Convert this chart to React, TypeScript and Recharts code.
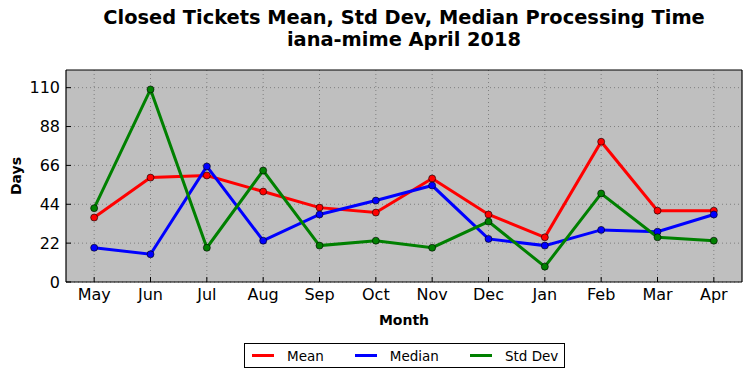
import React from 'react';
import { LineChart, Line, XAxis, YAxis, CartesianGrid, Legend } from 'recharts';

const months = ['May', 'Jun', 'Jul', 'Aug', 'Sep', 'Oct', 'Nov', 'Dec', 'Jan', 'Feb', 'Mar', 'Apr'];
const meanValues = [36.5, 59.1, 60.3, 51.2, 42.1, 39.3, 58.6, 38.2, 25.3, 79.4, 40.4, 40.4];
const medianValues = [19.4, 15.7, 65.4, 23.4, 38.2, 46.1, 54.6, 24.4, 20.6, 29.5, 28.5, 38.2];
const stdDevValues = [41.8, 109.0, 19.4, 63.1, 20.6, 23.4, 19.4, 34.2, 8.7, 50.1, 25.3, 23.4];
const yTicks = [0, 22, 44, 66, 88, 110];
const titleLines = ['Closed Tickets Mean, Std Dev, Median Processing Time', 'iana-mime April 2018'];

const data = months.map((m, i) => ({
  idx: i,
  month: m,
  mean: meanValues[i],
  median: medianValues[i],
  std: stdDevValues[i],
}));
const xTicks = months.map((_, i) => i);

const FONT = '"DejaVu Sans", sans-serif';

const renderLegend = (props: any) => {
  const payload = props.payload || [];
  return (
    <div
      style={{
        width: 321,
        height: 25,
        border: '1px solid #000',
        boxSizing: 'border-box',
        background: '#fff',
        display: 'flex',
        alignItems: 'center',
        paddingLeft: 7,
        fontFamily: FONT,
        fontSize: 13.5,
        color: '#000',
        whiteSpace: 'nowrap',
      }}
    >
      {payload.map((p: any, i: number) => (
        <div key={i} style={{ display: 'flex', alignItems: 'center', marginRight: i < payload.length - 1 ? 31 : 0, flexShrink: 0 }}>
          <div style={{ width: 22, height: 3, background: p.color, marginRight: 13 }} />
          <span style={{ lineHeight: '16px', whiteSpace: 'nowrap' }}>{p.value}</span>
        </div>
      ))}
    </div>
  );
};

export default function App() {
  return (
    <div style={{ position: 'absolute', left: 0, top: 0, width: 752, height: 378, background: '#fff' }}>
      {titleLines.map((t, i) => (
        <div
          key={i}
          style={{
            position: 'absolute',
            left: 0,
            width: 808,
            top: 7 + i * 22,
            textAlign: 'center',
            fontFamily: FONT,
            fontWeight: 'bold',
            fontSize: 19.4,
            lineHeight: '22px',
            color: '#000',
            whiteSpace: 'nowrap',
          }}
        >
          {t}
        </div>
      ))}
      <div
        style={{
          position: 'absolute',
          left: 16 - 30,
          top: 176 - 10,
          width: 60,
          height: 20,
          transform: 'rotate(-90deg)',
          textAlign: 'center',
          fontFamily: FONT,
          fontWeight: 'bold',
          fontSize: 14,
          lineHeight: '20px',
        }}
      >
        Days
      </div>
      <div
        style={{
          position: 'absolute',
          left: 404 - 50,
          top: 310,
          width: 100,
          textAlign: 'center',
          fontFamily: FONT,
          fontWeight: 'bold',
          fontSize: 14,
          lineHeight: '20px',
        }}
      >
        Month
      </div>
      <LineChart
        width={752}
        height={378}
        data={data}
        margin={{ top: 69, right: 9, bottom: 95, left: 65 }}
        style={{ position: 'absolute', left: 0, top: 0 }}
      >
        <CartesianGrid
          xAxisId="bottom"
          yAxisId="left"
          fill="#bfbfbf"
          fillOpacity={1}
          stroke="#7f7f7f"
          strokeDasharray="1 3"
          verticalValues={xTicks}
          horizontalValues={yTicks}
        />
        <XAxis
          xAxisId="bottom"
          dataKey="idx"
          type="number"
          domain={[-0.5, 11.5]}
          ticks={xTicks}
          allowDataOverflow
          interval={0}
          height={1}
          tickSize={-5}
          tickMargin={12}
          tickFormatter={(v: number) => months[v]}
          axisLine={{ stroke: '#000', strokeWidth: 1.2 }}
          tickLine={{ stroke: '#000' }}
          tick={{ fill: '#000', fontSize: 16, fontFamily: FONT }}
        />
        <XAxis
          xAxisId="top"
          orientation="top"
          dataKey="idx"
          type="number"
          domain={[-0.5, 11.5]}
          ticks={xTicks}
          allowDataOverflow
          interval={0}
          height={1}
          tickSize={-5}
          tick={false}
          axisLine={{ stroke: '#000', strokeWidth: 1.2 }}
          tickLine={{ stroke: '#000' }}
        />
        <YAxis
          yAxisId="left"
          type="number"
          domain={[0, 120]}
          ticks={yTicks}
          allowDataOverflow
          interval={0}
          width={1}
          tickSize={-5}
          tickMargin={11}
          axisLine={{ stroke: '#000', strokeWidth: 1.2 }}
          tickLine={{ stroke: '#000' }}
          tick={{ fill: '#000', fontSize: 16, fontFamily: FONT }}
        />
        <YAxis
          yAxisId="right"
          orientation="right"
          type="number"
          domain={[0, 120]}
          ticks={yTicks}
          allowDataOverflow
          interval={0}
          width={1}
          tickSize={-5}
          tick={false}
          axisLine={{ stroke: '#000', strokeWidth: 1.2 }}
          tickLine={{ stroke: '#000' }}
        />
        <Legend
          layout="horizontal"
          verticalAlign="middle"
          align="center"
          content={renderLegend}
          wrapperStyle={{ position: 'absolute', left: 244, top: 343, width: 321, height: 25 }}
        />
        <Line
          xAxisId="bottom"
          yAxisId="left"
          type="linear"
          dataKey="mean"
          name="Mean"
          stroke="#ff0000"
          strokeWidth={3}
          dot={{ r: 3.5, fill: '#ff0000', stroke: '#000', strokeWidth: 0.6 }}
          isAnimationActive={false}
        />
        <Line
          xAxisId="bottom"
          yAxisId="left"
          type="linear"
          dataKey="median"
          name="Median"
          stroke="#0000ff"
          strokeWidth={3}
          dot={{ r: 3.5, fill: '#0000ff', stroke: '#000', strokeWidth: 0.6 }}
          isAnimationActive={false}
        />
        <Line
          xAxisId="bottom"
          yAxisId="left"
          type="linear"
          dataKey="std"
          name="Std Dev"
          stroke="#008000"
          strokeWidth={3}
          dot={{ r: 3.5, fill: '#008000', stroke: '#000', strokeWidth: 0.6 }}
          isAnimationActive={false}
        />
      </LineChart>
    </div>
  );
}
